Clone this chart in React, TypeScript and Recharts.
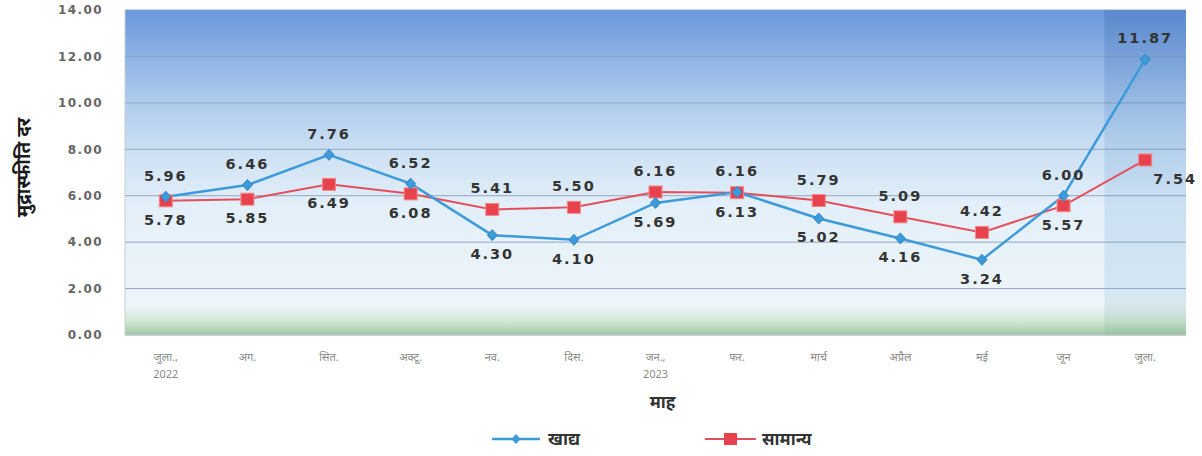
import React from 'react';
import { LineChart, Line, XAxis, YAxis, CartesianGrid, LabelList, ReferenceArea } from 'recharts';

const months = ["जुला.,\n2022", "अग.", "सित.", "अक्टू.", "नव.", "दिस.", "जन.,\n2023", "फर.", "मार्च", "अप्रैल", "मई", "जून", "जुला."];
const food = [5.96, 6.46, 7.76, 6.52, 4.30, 4.10, 5.69, 6.16, 5.02, 4.16, 3.24, 6.00, 11.87];
const general = [5.78, 5.85, 6.49, 6.08, 5.41, 5.50, 6.16, 6.13, 5.79, 5.09, 4.42, 5.57, 7.54];
const yTicks = [0, 2, 4, 6, 8, 10, 12, 14];

const data = months.map((m, i) => ({ month: m, food: food[i], general: general[i] }));

const BLUE = '#3d9bd9';
const RED = '#e2505c';
const LABEL_FONT = '"DejaVu Sans", Verdana, sans-serif';
const DEV_FONT = '"Noto Sans", "Noto Sans Devanagari", "Lohit Devanagari", "FreeSans", sans-serif';

const XTick = (props: any) => {
  const { x, y, payload } = props;
  const lines = String(payload.value).split('\n');
  return (
    <text x={x} y={y} textAnchor="middle" fill="#8a8a8a" fontSize={11} fontFamily={DEV_FONT}>
      {lines.map((l, i) => (
        <tspan key={i} x={x} dy={i === 0 ? 24 : 17}>{l}</tspan>
      ))}
    </text>
  );
};

const Diamond = (props: any) => {
  const { cx, cy } = props;
  if (cx == null || cy == null) return null;
  return <polygon points={`${cx},${cy - 5.5} ${cx + 5},${cy} ${cx},${cy + 5.5} ${cx - 5},${cy}`} fill={BLUE} stroke="#2f86c4" strokeWidth={1} />;
};

const Square = (props: any) => {
  const { cx, cy } = props;
  if (cx == null || cy == null) return null;
  return <rect x={cx - 6.5} y={cy - 6} width={13} height={12} fill="#e8424e" stroke="#f08a8a" strokeWidth={1} />;
};

const makeLabel = (series: 'food' | 'general') => (props: any) => {
  const { x, y, value, index } = props;
  const mine = series === 'food' ? food[index] : general[index];
  const other = series === 'food' ? general[index] : food[index];
  const above = series === 'food' ? mine >= other : mine > other;
  let dx = 0;
  if (series === 'general' && index === general.length - 1) dx = 30;
  return (
    <text
      x={x + dx}
      y={above ? y - 16 : y + 24}
      textAnchor="middle"
      fontSize={14.5}
      fontWeight="bold"
      fill="#333"
      fontFamily={LABEL_FONT}
      letterSpacing={2}
    >
      {Number(value).toFixed(2)}
    </text>
  );
};

export default function App() {
  return (
    <div style={{ position: 'absolute', left: 0, top: 0, width: 1202, height: 456, background: '#fff' }}>
      <LineChart width={1202} height={456} data={data} margin={{ top: 10, right: 16, left: 0, bottom: 41 }}>
        <defs>
          <linearGradient id="bgGrad" x1="0" y1="0" x2="0" y2="1">
            <stop offset="0%" stopColor="#6a98dc" />
            <stop offset="28%" stopColor="#aecbec" />
            <stop offset="45%" stopColor="#cfe2f4" />
            <stop offset="60%" stopColor="#e3eff9" />
            <stop offset="91%" stopColor="#edf5f8" />
            <stop offset="96%" stopColor="#d0e6d2" />
            <stop offset="100%" stopColor="#9fc9a0" />
          </linearGradient>
          <linearGradient id="lastGrad" x1="0" y1="0" x2="0" y2="1">
            <stop offset="0%" stopColor="#2f5fa8" stopOpacity={0.28} />
            <stop offset="40%" stopColor="#4a88c8" stopOpacity={0.18} />
            <stop offset="85%" stopColor="#5aa0d8" stopOpacity={0.16} />
            <stop offset="100%" stopColor="#5a8a70" stopOpacity={0.12} />
          </linearGradient>
        </defs>
        <CartesianGrid vertical={false} fill="url(#bgGrad)" stroke="#8aa0bc" strokeOpacity={0.9} />
        <ReferenceArea x1="जुला." x2="जुला." y1={0} y2={14} fill="url(#lastGrad)" fillOpacity={1} stroke="none" />
        <XAxis
          dataKey="month"
          scale="band"
          height={80}
          tick={<XTick />}
          tickLine={false}
          tickSize={0}
          interval={0}
          axisLine={{ stroke: '#c8ccd0' }}
          label={{ value: 'माह', position: 'insideBottom', offset: 7, dx: 7, fontSize: 17, fontWeight: 'bold', fill: '#333', fontFamily: DEV_FONT }}
        />
        <YAxis
          domain={[0, 14]}
          ticks={yTicks}
          interval={0}
          width={125}
          tickLine={false}
          tickSize={0}
          tickMargin={22}
          axisLine={{ stroke: '#c8ccd0' }}
          tickFormatter={(v: number) => v.toFixed(2)}
          tick={{ fontSize: 12, fontWeight: 'bold', fill: '#666', fontFamily: LABEL_FONT, letterSpacing: 1.4 } as any}
          label={{
            content: (p: any) => {
              const vb = p.viewBox || {};
              const cy = (vb.y ?? 10) + (vb.height ?? 325) / 2 - 5;
              const cx = 23;
              return (
                <text x={cx} y={cy} transform={`rotate(-90, ${cx}, ${cy})`} textAnchor="middle" dominantBaseline="central" fontSize={19} fontWeight="bold" fill="#1a1a1a" fontFamily={DEV_FONT}>
                  मुद्रास्फीति दर
                </text>
              );
            },
          }}
        />
        <Line type="linear" dataKey="general" stroke={RED} strokeWidth={2} dot={<Square />} activeDot={false} isAnimationActive={false}>
          <LabelList dataKey="general" content={makeLabel('general')} />
        </Line>
        <Line type="linear" dataKey="food" stroke={BLUE} strokeWidth={2.5} dot={<Diamond />} activeDot={false} isAnimationActive={false}>
          <LabelList dataKey="food" content={makeLabel('food')} />
        </Line>
      </LineChart>
      <svg width={1202} height={40} style={{ position: 'absolute', left: 0, top: 420 }}>
        <line x1={492} y1={19} x2={540} y2={19} stroke={BLUE} strokeWidth={2.5} />
        <polygon points="516,14 520.5,19 516,24 511.5,19" fill={BLUE} />
        <text x={548} y={25} fontSize={17} fontWeight="bold" fill="#333" fontFamily={DEV_FONT}>खाद्य</text>
        <line x1={705} y1={19} x2={756} y2={19} stroke={RED} strokeWidth={2} />
        <rect x={724} y={13} width={13} height={12} fill="#e8424e" />
        <text x={762} y={25} fontSize={17} fontWeight="bold" fill="#333" fontFamily={DEV_FONT}>सामान्य</text>
      </svg>
    </div>
  );
}
